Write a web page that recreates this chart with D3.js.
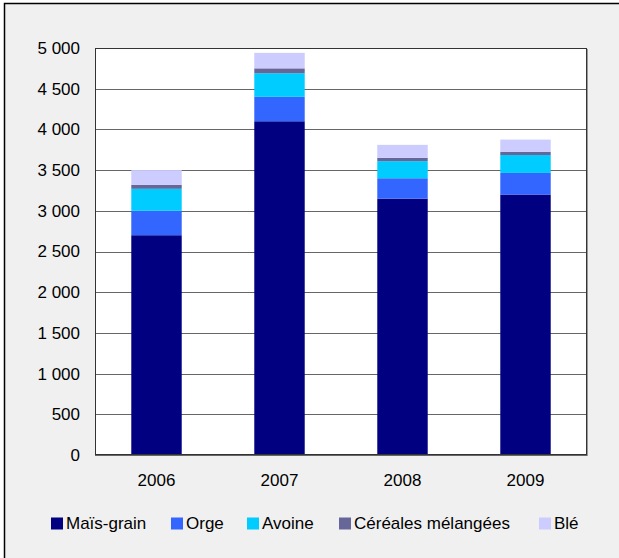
<!DOCTYPE html>
<html><head><meta charset="utf-8">
<script src="https://cdn.jsdelivr.net/npm/d3@7"></script>
<style>body{margin:0;background:#fff}svg{display:block}svg text{font-family:Arial,"Liberation Sans",Helvetica,sans-serif;fill:#000}</style>
</head><body><svg id="c" width="619" height="558"></svg>
<script>
const years = ["2006","2007","2008","2009"];
const seriesNames = ["Maïs-grain","Orge","Avoine","Céréales mélangées","Blé"];
const mais = [2700,4100,3150,3200];
const orge = [300,300,250,265];
const avoine = [270,290,210,220];
const melangees = [50,60,40,40];
const ble = [180,190,160,150];
const yTicks = [0,500,1000,1500,2000,2500,3000,3500,4000,4500,5000];
const colors = ["#000080","#3366ff","#00ccff","#666699","#ccccff"];
const FF = "Arial, 'Liberation Sans', Helvetica, sans-serif";

const svg = d3.select("#c");
svg.append("rect").attr("x",4.5).attr("y",3.5).attr("width",640).attr("height",600)
  .attr("fill","#f0f0f0").attr("stroke","#000").attr("stroke-width",1.5);

const L=95,R=587,T=48,B=455;
const x = d3.scaleBand().domain(years).range([L,R]).paddingInner(0.59).paddingOuter(0.295);
const y = d3.scaleLinear().domain([0,5000]).range([B,T]);

svg.append("rect").attr("x",L+1).attr("y",T+1).attr("width",R-L).attr("height",B-T).attr("fill","#9a9a9a");
svg.append("rect").attr("x",L).attr("y",T).attr("width",R-L).attr("height",B-T).attr("fill","#fff");

svg.append("g").selectAll("line").data(yTicks).join("line")
  .attr("x1",L).attr("x2",R).attr("y1",d=>Math.round(y(d))+0.5).attr("y2",d=>Math.round(y(d))+0.5)
  .attr("stroke","#666").attr("stroke-width",1);

const rows = years.map((yr,i)=>({year:yr,"Maïs-grain":mais[i],"Orge":orge[i],"Avoine":avoine[i],"Céréales mélangées":melangees[i],"Blé":ble[i]}));
const stack = d3.stack().keys(seriesNames)(rows);
svg.append("g").selectAll("g").data(stack).join("g").attr("fill",(d,i)=>colors[i])
  .selectAll("rect").data(d=>d).join("rect")
  .attr("x",d=>x(d.data.year)).attr("width",x.bandwidth())
  .attr("y",d=>y(d[1])).attr("height",d=>y(d[0])-y(d[1]));

svg.append("rect").attr("x",L+0.5).attr("y",T+0.5).attr("width",R-L-1).attr("height",B-T-1)
  .attr("fill","none").attr("stroke","#333").attr("stroke-width",1);

const ya = svg.append("g").attr("transform",`translate(${L},0)`)
  .call(d3.axisLeft(y).tickValues(yTicks).tickSize(0).tickPadding(15)
    .tickFormat(d=>d3.format(",")(d).replace(/,/g," ")));
ya.select(".domain").remove();
ya.selectAll("text").attr("font-size",17).attr("font-family",FF);

const xa = svg.append("g").attr("transform",`translate(0,${B})`)
  .call(d3.axisBottom(x).tickSize(0).tickPadding(19));
xa.select(".domain").remove();
xa.selectAll("text").attr("font-size",17).attr("font-family",FF);

const legX = [51,171,247,339,539];
const leg = svg.append("g").selectAll("g").data(seriesNames).join("g")
  .attr("transform",(d,i)=>`translate(${legX[i]},517.5)`);
leg.append("rect").attr("width",12).attr("height",12).attr("fill",(d,i)=>colors[i]);
leg.append("text").attr("x",15).attr("y",11.5).attr("font-size",17).attr("font-family",FF).text(d=>d);
</script></body></html>
